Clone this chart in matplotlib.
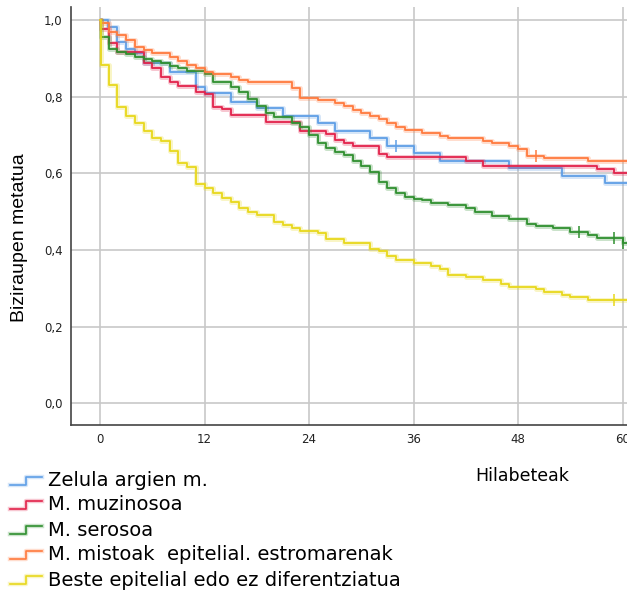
import matplotlib
matplotlib.use('Agg')
import matplotlib.pyplot as plt
from matplotlib.lines import Line2D

# Kaplan-Meier curves (months, cumulative survival)
blue_t = [0, 0.9, 1.9, 3, 4, 5, 8, 11, 12, 15, 18, 21, 25, 27, 31, 33, 36, 39, 47, 53, 58, 61]
blue_v = [1.0, 0.982, 0.943, 0.924, 0.913, 0.889, 0.865, 0.826, 0.809, 0.787, 0.770, 0.750,
          0.730, 0.711, 0.693, 0.672, 0.654, 0.633, 0.613, 0.594, 0.575, 0.575]

red_t = [0, 0.1, 1, 2, 5, 6, 7, 8, 9, 11, 12, 13, 14, 15, 19, 23, 26, 27, 28, 29, 32, 33,
         42, 44, 57, 59, 61]
red_v = [1.0, 0.977, 0.939, 0.916, 0.887, 0.876, 0.852, 0.837, 0.828, 0.813, 0.806, 0.774,
         0.767, 0.752, 0.735, 0.711, 0.702, 0.687, 0.680, 0.672, 0.650, 0.642, 0.632, 0.619,
         0.610, 0.602, 0.602]

green_t = [0, 0.1, 1, 2, 3, 4, 5, 6, 7, 8, 9, 10, 12, 13, 15, 16, 17, 18, 19, 20, 22, 23, 24,
           25, 26, 27, 28, 29, 30, 31, 32, 33, 34, 35, 36, 37, 38, 40, 42, 43, 45, 47, 49, 50,
           52, 54, 56, 57, 60, 61]
green_v = [1.0, 0.955, 0.924, 0.916, 0.911, 0.904, 0.897, 0.893, 0.889, 0.880, 0.874, 0.867,
           0.859, 0.839, 0.826, 0.813, 0.793, 0.776, 0.757, 0.746, 0.732, 0.720, 0.700, 0.679,
           0.665, 0.656, 0.648, 0.633, 0.620, 0.603, 0.578, 0.561, 0.549, 0.539, 0.532, 0.529,
           0.522, 0.516, 0.509, 0.498, 0.489, 0.480, 0.468, 0.463, 0.457, 0.448, 0.439, 0.430,
           0.419, 0.419]

orange_t = [0, 0.1, 1, 2, 3, 4, 5, 6, 8, 9, 10, 11, 12, 13, 15, 16, 17, 22, 23, 25, 27, 28,
            29, 30, 31, 32, 33, 34, 35, 37, 39, 40, 44, 45, 47, 48, 49, 51, 56, 61]
orange_v = [1.0, 0.993, 0.968, 0.961, 0.948, 0.929, 0.922, 0.915, 0.903, 0.894, 0.883, 0.874,
            0.865, 0.859, 0.852, 0.843, 0.837, 0.822, 0.797, 0.791, 0.784, 0.776, 0.765, 0.757,
            0.750, 0.741, 0.730, 0.720, 0.713, 0.704, 0.698, 0.693, 0.685, 0.678, 0.672, 0.663,
            0.644, 0.639, 0.632, 0.632]

yellow_t = [0, 0.1, 1, 2, 3, 4, 5, 6, 7, 8, 9, 10, 11, 12, 13, 14, 15, 16, 17, 18, 20, 21, 22,
            23, 25, 26, 28, 31, 32, 33, 34, 36, 38, 39, 40, 42, 44, 46, 47, 50, 51, 53, 54, 56, 61]
yellow_v = [1.0, 0.883, 0.830, 0.774, 0.750, 0.730, 0.710, 0.691, 0.683, 0.659, 0.626, 0.616,
            0.572, 0.561, 0.549, 0.535, 0.526, 0.510, 0.500, 0.491, 0.474, 0.465, 0.457, 0.450,
            0.443, 0.428, 0.417, 0.402, 0.396, 0.383, 0.374, 0.365, 0.358, 0.350, 0.335, 0.330,
            0.322, 0.311, 0.303, 0.297, 0.290, 0.283, 0.277, 0.268, 0.268]

# censored observations
blue_cens = ([34], [0.672])
red_cens = ([], [])
green_cens = ([55, 59, 60], [0.448, 0.430, 0.419])
orange_cens = ([50], [0.644])
yellow_cens = ([59], [0.268])

labels = ['Zelula argien m.', 'M. muzinosoa', 'M. serosoa',
          'M. mistoak  epitelial. estromarenak', 'Beste epitelial edo ez diferentziatua']
colors = ['#5f9fe6', '#e2234b', '#2f8f2f', '#ff7a3d', '#e8d81c']

series = [(blue_t, blue_v, blue_cens), (red_t, red_v, red_cens), (green_t, green_v, green_cens),
          (orange_t, orange_v, orange_cens), (yellow_t, yellow_v, yellow_cens)]

fig = plt.figure(figsize=(6.27, 5.96), dpi=100)
ax = fig.add_axes([71/627, 171/596, 556/627, 418/596])

for (t, v, cens), c in zip(series, colors):
    ax.step(t, v, where='post', color=c, lw=3.6, alpha=0.25, solid_capstyle='butt')
    ax.step(t, v, where='post', color=c, lw=1.3)
    if cens[0]:
        ax.plot(cens[0], cens[1], ls='none', marker='|', ms=8, mew=1.1, color=c)

ax.set_xlim(-3.33, 60.5)
ax.set_ylim(-0.057, 1.034)
ax.set_xticks([0, 12, 24, 36, 48, 60])
ax.set_yticks([0, 0.2, 0.4, 0.6, 0.8, 1.0])
ax.set_yticklabels(['0,0', '0,2', '0,4', '0,6', '0,8', '1,0'])
ax.tick_params(length=0, labelsize=8.5, colors='#222222', pad=6)
ax.grid(True, color='#c8c8c8', lw=1.2)
ax.set_axisbelow(True)
for s in ['top', 'right']:
    ax.spines[s].set_visible(False)
for s in ['left', 'bottom']:
    ax.spines[s].set_color('#444444')
    ax.spines[s].set_linewidth(1.2)

fig.text(20/627, 1 - 238/596, 'Biziraupen metatua', rotation=90, ha='center', va='center',
         fontsize=14, family='Liberation Sans')
fig.text(522/627, 1 - 476/596, 'Hilabeteak', ha='center', va='center',
         fontsize=12.5, family='DejaVu Sans')

# legend drawn below the plot
row_y = [481, 505, 530, 555, 580]
for lab, c, yy in zip(labels, colors, row_y):
    xs = [10/627, 26/627, 26/627, 42/627]
    ys = [1 - (yy + 4)/596, 1 - (yy + 4)/596, 1 - (yy - 4)/596, 1 - (yy - 4)/596]
    fig.add_artist(Line2D(xs, ys, color=c, lw=3.2, alpha=0.25, transform=fig.transFigure))
    fig.add_artist(Line2D(xs, ys, color=c, lw=1.2, transform=fig.transFigure))
    fig.text(48/627, 1 - yy/596, lab, ha='left', va='center', fontsize=14, family='DejaVu Sans')

fig.savefig('out.png', dpi=100)
